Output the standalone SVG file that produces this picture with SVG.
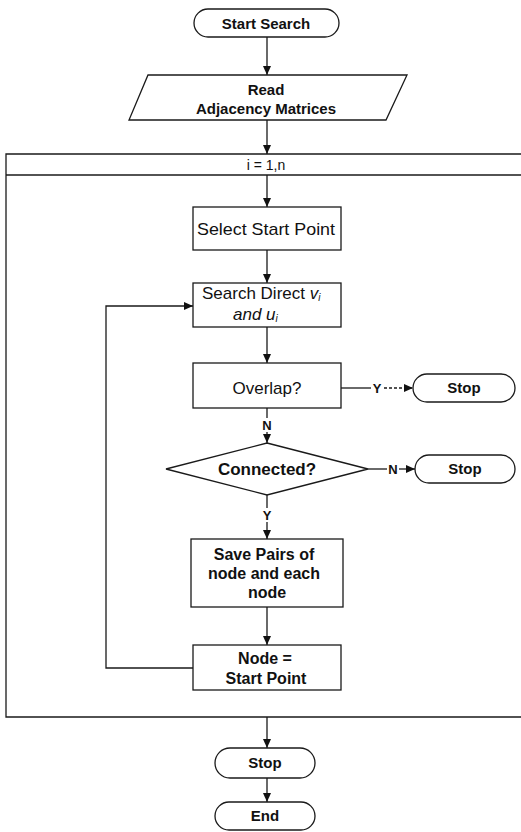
<svg xmlns="http://www.w3.org/2000/svg" width="521" height="832" viewBox="0 0 521 832">
  <defs>
    <marker id="arr" markerWidth="9" markerHeight="8" refX="9" refY="4" orient="auto" markerUnits="userSpaceOnUse">
      <path d="M0,0 L9,4 L0,8 Z" fill="#111"/>
    </marker>
    <style>
      .shape { fill: #fff; stroke: #1a1a1a; stroke-width: 1.3; }
      .conn { fill: none; stroke: #1a1a1a; stroke-width: 1.3; }
      .b { font-family: "Liberation Sans", Arial, sans-serif; font-weight: bold; fill: #111; text-anchor: middle; }
      .r { font-family: "Liberation Sans", Arial, sans-serif; font-weight: normal; fill: #111; text-anchor: middle; }
      .s { font-family: "Liberation Sans", Arial, sans-serif; font-weight: normal; fill: #111; text-anchor: start; }
      .lbl { font-family: "Liberation Sans", Arial, sans-serif; font-weight: bold; font-size: 13px; fill: #111; text-anchor: middle; }
    </style>
  </defs>
  <rect width="521" height="832" fill="#fff"/>

  <g id="loop">
    <path class="conn" d="M521,154 L6,154 L6,717 L521,717"/>
    <line class="conn" x1="6" y1="175" x2="521" y2="175"/>
    <text class="r" x="266" y="170" font-size="14">i = 1,n</text>
  </g>

  <g id="connectors">
    <line class="conn" x1="267" y1="37" x2="267" y2="75" marker-end="url(#arr)"/>
    <line class="conn" x1="267" y1="120" x2="267" y2="154" marker-end="url(#arr)"/>
    <line class="conn" x1="267" y1="175" x2="267" y2="207" marker-end="url(#arr)"/>
    <line class="conn" x1="267" y1="250" x2="267" y2="283" marker-end="url(#arr)"/>
    <line class="conn" x1="267" y1="327" x2="267" y2="363" marker-end="url(#arr)"/>
    <line class="conn" x1="267" y1="408" x2="267" y2="418"/>
    <line class="conn" x1="267" y1="432" x2="267" y2="443" marker-end="url(#arr)"/>
    <line class="conn" x1="341" y1="388" x2="371" y2="388"/>
    <line class="conn" x1="384" y1="388" x2="413" y2="388" stroke-dasharray="3,2" marker-end="url(#arr)"/>
    <line class="conn" x1="368" y1="469" x2="387" y2="469"/>
    <line class="conn" x1="399" y1="469" x2="415" y2="469" marker-end="url(#arr)"/>
    <line class="conn" x1="267" y1="495" x2="267" y2="508"/>
    <line class="conn" x1="267" y1="522" x2="267" y2="539" marker-end="url(#arr)"/>
    <line class="conn" x1="267" y1="607" x2="267" y2="645" marker-end="url(#arr)"/>
    <path class="conn" d="M193,668 L106,668 L106,306 L193,306" marker-end="url(#arr)"/>
    <line class="conn" x1="267" y1="717" x2="267" y2="748" marker-end="url(#arr)"/>
    <line class="conn" x1="267" y1="778" x2="267" y2="802" marker-end="url(#arr)"/>
    <text class="lbl" x="377" y="393">Y</text>
    <text class="lbl" x="267" y="430">N</text>
    <text class="lbl" x="393" y="474">N</text>
    <text class="lbl" x="267" y="520">Y</text>
  </g>

  <g id="start-search">
    <rect class="shape" x="194" y="9" width="145" height="28" rx="14"/>
    <text class="b" x="266" y="29" font-size="15">Start Search</text>
  </g>

  <g id="read">
    <polygon class="shape" points="148,75 407,75 386,120 129,120"/>
    <text class="b" x="266" y="95" font-size="15">Read</text>
    <text class="b" x="266" y="114" font-size="15">Adjacency Matrices</text>
  </g>

  <g id="select-start">
    <rect class="shape" x="193" y="207" width="148" height="43"/>
    <text class="r" x="266" y="235" font-size="17" textLength="138" lengthAdjust="spacingAndGlyphs">Select Start Point</text>
  </g>

  <g id="search-direct">
    <rect class="shape" x="193" y="283" width="148" height="44"/>
    <text class="s" x="202" y="299" font-size="17">Search Direct <tspan font-style="italic">v</tspan><tspan font-style="italic" font-size="10" dy="2">i</tspan></text>
    <text class="s" x="233" y="320" font-size="17" font-style="italic">and u<tspan font-size="10" dy="2">i</tspan></text>
  </g>

  <g id="overlap">
    <rect class="shape" x="193" y="363" width="148" height="45"/>
    <text class="r" x="267" y="394" font-size="17">Overlap?</text>
  </g>

  <g id="stop-overlap">
    <rect class="shape" x="413" y="374" width="102" height="28" rx="14"/>
    <text class="b" x="464" y="393" font-size="15">Stop</text>
  </g>

  <g id="connected">
    <polygon class="shape" points="267,443 368,469 267,495 166,469"/>
    <text class="b" x="267" y="475" font-size="17">Connected?</text>
  </g>

  <g id="stop-connected">
    <rect class="shape" x="415" y="455" width="100" height="28" rx="14"/>
    <text class="b" x="465" y="474" font-size="15">Stop</text>
  </g>

  <g id="save-pairs">
    <rect class="shape" x="191" y="539" width="152" height="68"/>
    <text class="b" x="264" y="560" font-size="16">Save Pairs of</text>
    <text class="b" x="264" y="579" font-size="16">node and each</text>
    <text class="b" x="267" y="598" font-size="16">node</text>
  </g>

  <g id="node-start">
    <rect class="shape" x="193" y="645" width="148" height="45"/>
    <text class="b" x="265" y="664" font-size="16">Node =</text>
    <text class="b" x="266" y="684" font-size="16">Start Point</text>
  </g>

  <g id="stop-final">
    <rect class="shape" x="215" y="748" width="100" height="30" rx="15"/>
    <text class="b" x="265" y="768" font-size="15">Stop</text>
  </g>

  <g id="end">
    <rect class="shape" x="215" y="802" width="100" height="28" rx="14"/>
    <text class="b" x="265" y="821" font-size="15">End</text>
  </g>
</svg>
